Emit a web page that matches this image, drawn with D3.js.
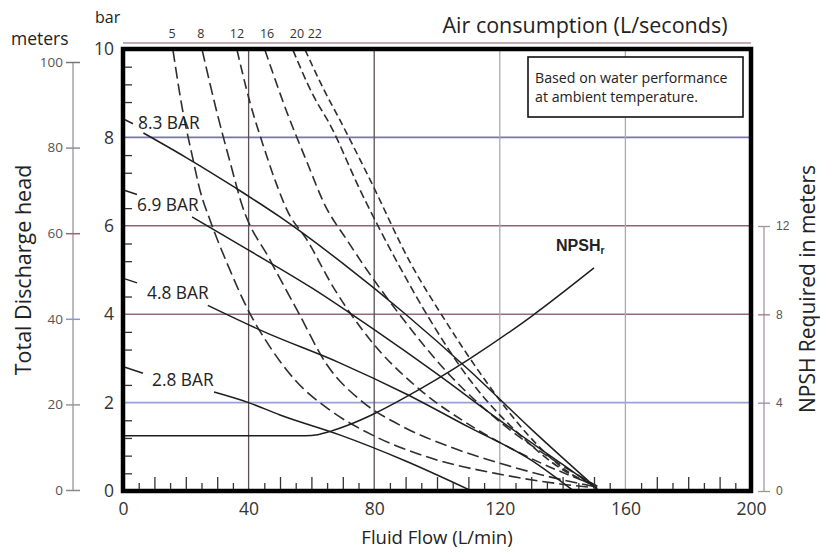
<!DOCTYPE html>
<html>
<head>
<meta charset="utf-8">
<script src="https://cdnjs.cloudflare.com/ajax/libs/d3/7.8.5/d3.min.js"></script>
<style>
body { margin: 0; background: #fff; }
svg { display: block; font-family: "Open Sans", "Noto Sans", sans-serif; }
</style>
</head>
<body>
<svg id="chart" width="820" height="555"></svg>
<script>
// flow in L/min, head in bar, NPSH in meters
var flowTicks = [0, 40, 80, 120, 160, 200];
var barTicks = [0, 2, 4, 6, 8, 10];
var meterTicks = [0, 20, 40, 60, 80, 100];
var npshTicks = [0, 4, 8, 12];
var barMinorTicks = [0.4, 0.8, 1.2, 1.6, 2.4, 3.2, 3.6, 4.4, 5.2, 5.6, 6.4, 7.2, 7.6, 8.8, 9.2, 9.6];
var flowMinorTall = [10, 20, 30, 50, 60, 70, 90, 100, 110, 130, 140, 150, 170, 180, 190];
var flowMinorShort = [5, 15, 25, 35, 45, 55, 65, 75, 85, 95, 105, 115, 125, 135, 145, 155, 165, 175, 185, 195];

// air consumption labels (L/s) and where they sit on the top edge
var airLabels = ["5", "8", "12", "16", "20", "22"];
var airLabelFlows = [15.6, 24.8, 36.3, 45.9, 55.4, 61.1];

// solid pressure curves
var pressureNames = ["8.3 BAR", "6.9 BAR", "4.8 BAR", "2.8 BAR"];
var pressureTicks = [8.4, 6.8, 4.8, 2.8];
var p83 = [[6.5, 8.1], [20, 7.55], [36, 6.85], [50, 6.2], [70, 5.15], [90, 4.0], [110, 2.75], [130, 1.4], [151, 0.05]];
var p69 = [[22, 6.2], [40, 5.45], [60, 4.6], [80, 3.65], [100, 2.65], [120, 1.6], [140, 0.6], [151, 0.05]];
var p48 = [[27, 4.2], [45, 3.6], [69, 2.9], [90, 2.2], [110, 1.45], [130, 0.7], [143, 0.03]];
var p28 = [[29, 2.24], [40, 2.0], [50, 1.72], [69, 1.27], [90, 0.68], [110.5, 0.02]];

// dashed air consumption curves
var a5 = [[15.9, 9.98], [19.1, 8.57], [22, 7.6], [24.5, 6.81], [27.7, 6.13], [33.4, 5.11], [39.8, 4.1], [46.8, 3.26], [54.8, 2.51], [65.9, 1.83], [79.3, 1.27], [97.8, 0.75], [120, 0.38], [139.2, 0.16], [151, 0.07]];
var a8 = [[25.2, 9.98], [29.9, 8.57], [34.1, 7.44], [37.9, 6.47], [46.8, 5.23], [55.4, 4.1], [65, 2.85], [75.5, 2.06], [88.2, 1.49], [104.1, 1.0], [120, 0.63], [135.9, 0.32], [151, 0.09]];
var a12 = [[36.3, 9.98], [40.4, 8.8], [44.6, 7.83], [49, 6.92], [52.2, 6.36], [58.6, 5.68], [66.9, 4.62], [78.7, 3.42], [94.6, 2.29], [110.5, 1.49], [129.6, 0.75], [151, 0.11]];
var a16 = [[45.2, 9.98], [52.2, 8.57], [58.6, 7.44], [64.3, 6.47], [71.3, 5.68], [77.7, 5.0], [88.2, 3.98], [104.1, 2.62], [120.1, 1.56], [136, 0.75], [151, 0.11]];
var a20 = [[54.1, 9.98], [60.5, 8.96], [66, 8.28], [75.5, 6.81], [87.3, 5.18], [97.8, 3.87], [110.5, 2.51], [126.4, 1.27], [139.2, 0.52], [151, 0.11]];
var a22 = [[58, 9.98], [63.7, 9.12], [69.1, 8.39], [78.7, 7.04], [91.4, 5.18], [102.5, 3.87], [115.3, 2.51], [129.6, 1.22], [140.8, 0.48], [151, 0.09]];

// NPSH required (m)
var npsh = [[0, 2.5], [58, 2.5], [62, 2.55], [66, 2.7], [72, 3.0], [80, 3.5], [90, 4.25], [110, 5.95], [130, 7.9], [150, 10.1]];

var svg = d3.select("#chart");

var x = d3.scaleLinear().domain([0, 200]).range([123, 751]);
var y = d3.scaleLinear().domain([0, 10]).range([491, 49]);
var yM = d3.scaleLinear().domain([0, 100]).range([490, 62]);
var yN = d3.scaleLinear().domain([0, 12]).range([491, 226]);

var hGridColor = { 2: "#97a3d6", 4: "#956a80", 6: "#8c6474", 8: "#7674b2" };
var vGridColor = { 40: "#5e4e58", 80: "#5e4e58", 120: "#a9a9b6", 160: "#a9a9b6" };
var airDash = ["12,5", "12,5", "10,5", "10,5", "8,4", "7,4"];

// grid
svg.append("g").selectAll("line")
	.data([2, 4, 6, 8])
	.enter().append("line")
	.attr("x1", x(0)).attr("x2", x(200))
	.attr("y1", function(d) { return y(d); })
	.attr("y2", function(d) { return y(d); })
	.attr("stroke", function(d) { return hGridColor[d]; })
	.attr("stroke-width", 1.6);

svg.append("g").selectAll("line")
	.data([40, 80, 120, 160])
	.enter().append("line")
	.attr("y1", y(0)).attr("y2", y(10))
	.attr("x1", function(d) { return x(d); })
	.attr("x2", function(d) { return x(d); })
	.attr("stroke", function(d) { return vGridColor[d]; })
	.attr("stroke-width", 1.3);

// thin line above the frame
svg.append("line")
	.attr("x1", x(0)).attr("x2", x(200))
	.attr("y1", 43).attr("y2", 43)
	.attr("stroke", "#c4aab4").attr("stroke-width", 2);

var line = d3.line()
	.x(function(d) { return x(d[0]); })
	.y(function(d) { return y(d[1]); })
	.curve(d3.curveMonotoneX);

var npshLine = d3.line()
	.x(function(d) { return x(d[0]); })
	.y(function(d) { return yN(d[1]); })
	.curve(d3.curveMonotoneX);

svg.append("g").selectAll("path")
	.data([a5, a8, a12, a16, a20, a22])
	.enter().append("path")
	.attr("d", line)
	.attr("fill", "none")
	.attr("stroke", "#2e2e2e")
	.attr("stroke-width", 1.6)
	.attr("stroke-dasharray", function(d, i) { return airDash[i]; });

svg.append("g").selectAll("path")
	.data([p83, p69, p48, p28])
	.enter().append("path")
	.attr("d", line)
	.attr("fill", "none")
	.attr("stroke", "#1e1e1e")
	.attr("stroke-width", 1.5);

svg.append("path")
	.attr("d", npshLine(npsh))
	.attr("fill", "none")
	.attr("stroke", "#1e1e1e")
	.attr("stroke-width", 1.5);

// frame
svg.append("rect")
	.attr("x", x(0)).attr("y", y(10))
	.attr("width", x(200) - x(0)).attr("height", y(0) - y(10))
	.attr("fill", "none")
	.attr("stroke", "#000")
	.attr("stroke-width", 4.5);

// minor ticks inside the frame
var minorLeft = svg.append("g")
	.attr("transform", "translate(" + (x(0) + 2) + ",0)")
	.call(d3.axisRight(y).tickValues(barMinorTicks).tickSize(7).tickFormat(""));
minorLeft.select(".domain").remove();
minorLeft.selectAll("line").attr("stroke", "#333").attr("stroke-width", 1.3);

var minorTall = svg.append("g")
	.attr("transform", "translate(0," + (y(0) - 2) + ")")
	.call(d3.axisTop(x).tickValues(flowMinorTall).tickSize(12).tickFormat(""));
var minorShort = svg.append("g")
	.attr("transform", "translate(0," + (y(0) - 2) + ")")
	.call(d3.axisTop(x).tickValues(flowMinorShort).tickSize(6).tickFormat(""));
[minorTall, minorShort].forEach(function(g) {
	g.select(".domain").remove();
	g.selectAll("line").attr("stroke", "#333").attr("stroke-width", 1.3);
});

// leader ticks for the pressure labels
var leaderEnd = [[133, 4], [137, 4], [137, 4], [143, 6]];
svg.append("g").selectAll("line")
	.data(pressureTicks)
	.enter().append("line")
	.attr("x1", x(0) + 2)
	.attr("y1", function(d) { return y(d); })
	.attr("x2", function(d, i) { return leaderEnd[i][0]; })
	.attr("y2", function(d, i) { return y(d) + leaderEnd[i][1]; })
	.attr("stroke", "#222").attr("stroke-width", 1.5);

var labelPos = [[138, 129], [137, 211], [147, 299], [152, 386]];
svg.append("g").selectAll("text")
	.data(pressureNames)
	.enter().append("text")
	.attr("x", function(d, i) { return labelPos[i][0]; })
	.attr("y", function(d, i) { return labelPos[i][1]; })
	.attr("font-size", 17.3)
	.attr("fill", "#222")
	.text(function(d) { return d; });

// main axes
var bottomAxis = svg.append("g")
	.attr("transform", "translate(0," + y(0) + ")")
	.call(d3.axisBottom(x).tickValues(flowTicks).tickSize(0).tickPadding(12));
var leftAxis = svg.append("g")
	.attr("transform", "translate(" + x(0) + ",0)")
	.call(d3.axisLeft(y).tickValues(barTicks).tickSize(0).tickPadding(9));
[bottomAxis, leftAxis].forEach(function(g) {
	g.select(".domain").remove();
	g.selectAll("text").attr("font-size", 17.5).attr("fill", "#333")
		.attr("font-family", "'Open Sans', sans-serif");
});

// meters axis
var tickColorM = { 0: "#888", 20: "#999", 40: "#8c96cc", 60: "#a06070", 80: "#9a8a90", 100: "#777" };
svg.append("line")
	.attr("x1", 73).attr("x2", 73)
	.attr("y1", yM(0)).attr("y2", yM(100))
	.attr("stroke", "#9a94a0").attr("stroke-width", 1.3);
var metersAxis = svg.append("g")
	.attr("transform", "translate(80,0)")
	.call(d3.axisLeft(yM).tickValues(meterTicks).tickSize(14).tickPadding(3));
metersAxis.select(".domain").remove();
metersAxis.selectAll("line")
	.attr("stroke", function(d) { return tickColorM[d]; })
	.attr("stroke-width", 1.5);
metersAxis.selectAll("text")
	.attr("font-size", 13.5).attr("fill", "#555")
	.attr("font-family", "'Open Sans', sans-serif");

// NPSH axis
var tickColorN = { 0: "#998", 4: "#a08ab0", 8: "#b07080", 12: "#999" };
svg.append("line")
	.attr("x1", 764).attr("x2", 764)
	.attr("y1", yN(0)).attr("y2", yN(12))
	.attr("stroke", "#a894a6").attr("stroke-width", 1.3);
var npshAxis = svg.append("g")
	.attr("transform", "translate(758,0)")
	.call(d3.axisRight(yN).tickValues(npshTicks).tickSize(12).tickPadding(6));
npshAxis.select(".domain").remove();
npshAxis.selectAll("line")
	.attr("stroke", function(d) { return tickColorN[d]; })
	.attr("stroke-width", 1.3);
npshAxis.selectAll("text")
	.attr("font-size", 12).attr("fill", "#555")
	.attr("font-family", "'Liberation Sans Narrow', 'Liberation Sans', sans-serif");

// top air labels
svg.append("g").selectAll("text")
	.data(airLabels)
	.enter().append("text")
	.attr("x", function(d, i) { return x(airLabelFlows[i]); })
	.attr("y", 38)
	.attr("text-anchor", "middle")
	.attr("font-size", 12.5)
	.attr("fill", "#333")
	.text(function(d) { return d; });

// NPSH label
var npshText = svg.append("text")
	.attr("x", 556).attr("y", 251)
	.attr("font-family", "'Liberation Sans Narrow', 'Liberation Sans', sans-serif")
	.attr("font-weight", "bold")
	.attr("font-size", 16)
	.attr("fill", "#222");
npshText.append("tspan").text("NPSH");
npshText.append("tspan").attr("font-size", 10).attr("dy", 3).text("r");

// note box
svg.append("rect")
	.attr("x", 528).attr("y", 57)
	.attr("width", 215).attr("height", 60)
	.attr("fill", "#fff")
	.attr("stroke", "#111")
	.attr("stroke-width", 1.6);
svg.append("text").attr("x", 535).attr("y", 83)
	.attr("font-size", 14.2).attr("fill", "#222")
	.text("Based on water performance");
svg.append("text").attr("x", 535).attr("y", 102)
	.attr("font-size", 14.2).attr("fill", "#222")
	.text("at ambient temperature.");

// titles
svg.append("text").attr("x", 95).attr("y", 23)
	.attr("font-size", 16).attr("fill", "#222").text("bar");
svg.append("text").attr("x", 11).attr("y", 45)
	.attr("font-size", 17.5).attr("fill", "#222").text("meters");
svg.append("text").attr("x", 585).attr("y", 33)
	.attr("text-anchor", "middle")
	.attr("font-size", 21.5).attr("fill", "#222")
	.text("Air consumption (L/seconds)");
svg.append("text").attr("x", 437).attr("y", 544)
	.attr("text-anchor", "middle")
	.attr("font-size", 18.5).attr("fill", "#222")
	.text("Fluid Flow (L/min)");
svg.append("text")
	.attr("transform", "translate(31,270) rotate(-90)")
	.attr("text-anchor", "middle")
	.attr("font-size", 21.5).attr("fill", "#222")
	.text("Total Discharge head");
svg.append("text")
	.attr("transform", "translate(815,289) rotate(-90)")
	.attr("text-anchor", "middle")
	.attr("font-size", 21).attr("fill", "#222")
	.text("NPSH Required in meters");
</script>
</body>
</html>
